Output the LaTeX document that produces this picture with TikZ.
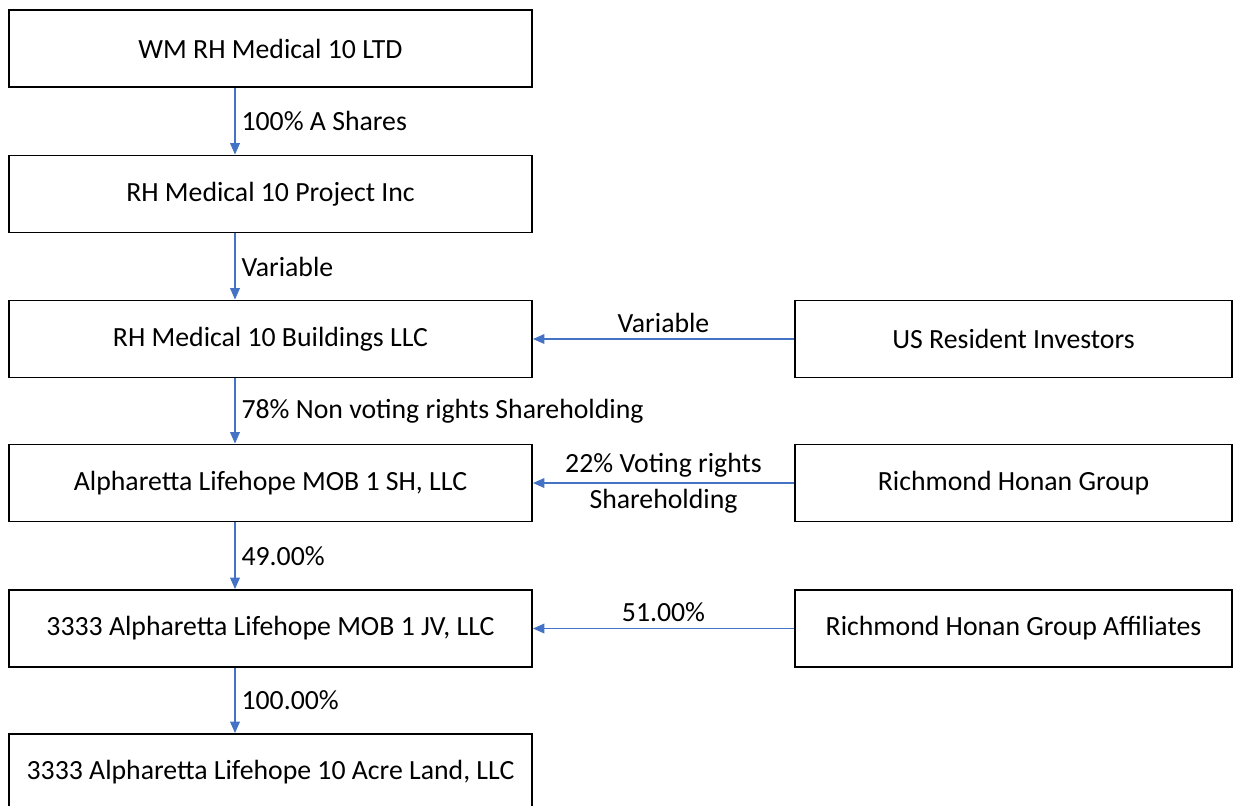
\documentclass[tikz,border=0pt]{standalone}
\usepackage{fontspec}
\setmainfont{Carlito}
\usepackage{xcolor}
\usetikzlibrary{positioning, arrows.meta}
\definecolor{linkblue}{HTML}{4472C4}

\begin{document}
\begin{tikzpicture}[
    entity/.style={rectangle, draw, line width=1.1pt, minimum width=10.46cm, minimum height=1.54cm, font=\fontsize{15.8}{19}\selectfont},
    outside/.style={entity, minimum width=8.74cm},
    owns/.style={-{Triangle[length=6.5pt, width=5.5pt]}, draw=linkblue, line width=0.8pt},
    pct/.style={font=\fontsize{15.8}{20.6}\selectfont, text=black}
]

\useasboundingbox (0, 0) rectangle (24.76, -16.1);
\clip (0, 0) rectangle (24.76, -16.1);
\coordinate (spine) at (4.7, 0);

\node[entity] (wm) at (5.41, -0.97) {WM RH Medical 10 LTD};
\node[entity] (project) at (5.41, -3.88) {RH Medical 10 Project Inc};
\node[entity] (buildings) at (5.41, -6.78) {RH Medical 10 Buildings LLC};
\node[entity] (shco) at (5.41, -9.66) {Alpharetta Lifehope MOB 1 SH, LLC};
\node[entity] (jv) at (5.41, -12.57) {3333 Alpharetta Lifehope MOB 1 JV, LLC};
\node[entity] (land) at (5.41, -15.45) {3333 Alpharetta Lifehope 10 Acre Land, LLC};

\node[outside] (usinv) at (20.27, -6.78) {US Resident Investors};
\node[outside] (rhg) at (20.27, -9.66) {Richmond Honan Group};
\node[outside] (rhgaff) at (20.27, -12.57) {Richmond Honan Group Affiliates};

\draw[owns] (wm.south -| spine) -- node[pct, right] {100\% A Shares} (project.north -| spine);
\draw[owns] (project.south -| spine) -- node[pct, right] {Variable} (buildings.north -| spine);
\draw[owns] (buildings.south -| spine) -- node[pct, right] {78\% Non voting rights Shareholding} (shco.north -| spine);
\draw[owns] (shco.south -| spine) -- node[pct, right] {49.00\%} (jv.north -| spine);
\draw[owns] (jv.south -| spine) -- node[pct, right] {100.00\%} (land.north -| spine);

\draw[owns] (usinv) -- node[pct, above] {Variable} (buildings);
\draw[owns] (rhg) -- node[pct, align=center] {22\% Voting rights\\Shareholding} (shco);
\draw[owns] (rhgaff) -- node[pct, above] {51.00\%} (jv);

\end{tikzpicture}
\end{document}
